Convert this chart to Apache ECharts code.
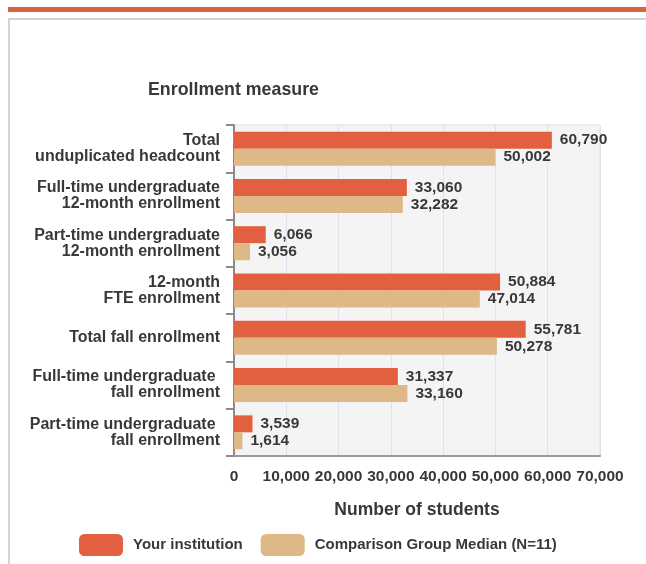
<!DOCTYPE html>
<html>
<head>
<meta charset="utf-8">
<script src="https://cdn.jsdelivr.net/npm/echarts@6/dist/echarts.min.js"></script>
<style>
html, body { margin: 0; padding: 0; background: #fff; }
.stripe { position: absolute; left: 8px; top: 7px; width: 638px; height: 5px; background: #d9623f; }
.frame { position: absolute; left: 8px; top: 18px; width: 640px; height: 560px; border-top: 2px solid #d3d3d3; border-left: 2px solid #d3d3d3; }
#chart { position: absolute; left: 0; top: 0; width: 646px; height: 564px; }
</style>
</head>
<body>
<div class="stripe"></div>
<div class="frame"></div>
<div id="chart"></div>
<script>
var categories = [
  'Total\nunduplicated headcount',
  'Full-time undergraduate\n12-month enrollment',
  'Part-time undergraduate\n12-month enrollment',
  '12-month\nFTE enrollment',
  'Total fall enrollment',
  'Full-time undergraduate \nfall enrollment',
  'Part-time undergraduate \nfall enrollment'
]
var yourInstitution = [60790, 33060, 6066, 50884, 55781, 31337, 3539]
var comparisonMedian = [50002, 32282, 3056, 47014, 50278, 33160, 1614]

var font = 'Arial, "Liberation Sans", sans-serif'
var textColor = '#383838'

var myChart = echarts.init(document.getElementById('chart'))
var labelStyle = {
  show: true,
  position: 'right',
  distance: 8,
  color: textColor,
  fontFamily: font,
  fontWeight: 'bold',
  fontSize: 15.5,
  formatter: function (p) { return p.value.toLocaleString('en-US') }
}
var option = {
  animation: false,
  title: {
    text: 'Enrollment measure',
    left: 143,
    top: 76,
    textStyle: { fontFamily: font, fontWeight: 'bold', fontSize: 17.8, color: textColor }
  },
  legend: {
    top: 529,
    left: 74,
    itemWidth: 44,
    itemHeight: 22,
    itemGap: 18,
    icon: 'roundRect',
    textStyle: { fontFamily: font, fontWeight: 'bold', fontSize: 15, color: textColor, padding: [0, 0, 0, 5] },
    data: ['Your institution', 'Comparison Group Median (N=11)']
  },
  grid: {
    left: 234,
    top: 125,
    width: 366,
    height: 331,
    show: true,
    backgroundColor: '#f4f4f4',
    borderWidth: 1,
    borderColor: '#dedede'
  },
  xAxis: {
    type: 'value',
    min: 0,
    max: 70000,
    interval: 10000,
    name: 'Number of students',
    nameLocation: 'middle',
    nameGap: 45,
    nameTextStyle: { fontFamily: font, fontWeight: 'bold', fontSize: 17.5, color: textColor },
    axisLine: { show: true, lineStyle: { color: '#9a9a9a', width: 2 } },
    axisTick: { show: false },
    axisLabel: {
      color: textColor,
      fontFamily: font,
      fontWeight: 'bold',
      fontSize: 15.5,
      margin: 13,
      formatter: function (v) { return v.toLocaleString('en-US') }
    },
    splitLine: { show: true, lineStyle: { color: '#dce3ee', width: 1 } }
  },
  yAxis: {
    type: 'category',
    inverse: true,
    data: categories,
    axisLine: { show: true, lineStyle: { color: '#8a8a8a', width: 2 } },
    axisTick: { show: true, length: 8, lineStyle: { color: '#8a8a8a', width: 2 } },
    axisLabel: {
      color: textColor,
      fontFamily: font,
      fontWeight: 'bold',
      fontSize: 16,
      lineHeight: 16,
      align: 'right',
      margin: 14
    }
  },
  series: [
    {
      name: 'Your institution',
      type: 'bar',
      data: yourInstitution,
      barWidth: 17,
      barGap: '0%',
      itemStyle: { color: '#e2603f' },
      label: labelStyle
    },
    {
      name: 'Comparison Group Median (N=11)',
      type: 'bar',
      data: comparisonMedian,
      barWidth: 17,
      itemStyle: { color: '#deb887' },
      label: labelStyle
    }
  ]
}
myChart.setOption(option)
</script>
</body>
</html>
